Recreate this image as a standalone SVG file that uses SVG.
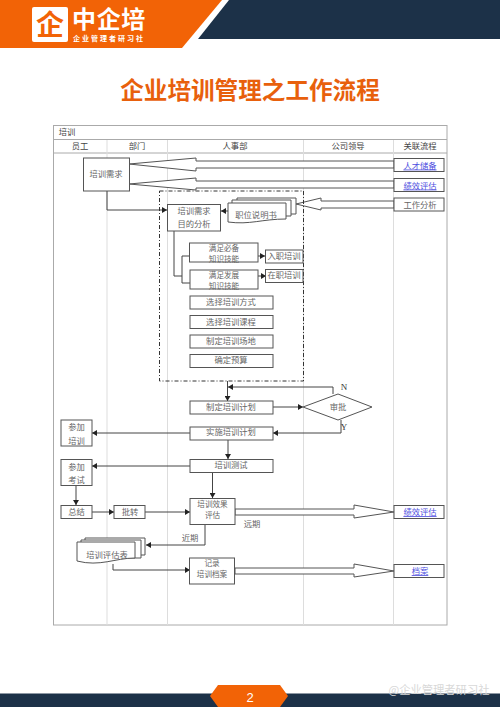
<svg xmlns="http://www.w3.org/2000/svg" width="500" height="707" viewBox="0 0 500 707">
<defs>
<marker id="a" markerUnits="userSpaceOnUse" markerWidth="6" markerHeight="6" refX="5" refY="3" orient="auto"><path d="M0 0L5 3L0 6Z" fill="#222"/></marker>
</defs>
<style>
text{font-family:"Noto Sans CJK SC","Liberation Serif",serif;text-anchor:middle;fill:#666;font-size:8.3px}
.s{font-size:7.6px}
.b{fill:#fff;stroke:#555;stroke-width:1}
.l{fill:none;stroke:#444;stroke-width:1;marker-end:url(#a)}
.p{fill:none;stroke:#444;stroke-width:1}
.h{fill:#fff;stroke:#555;stroke-width:1}
.g{stroke:#ddd;stroke-width:1}
.t{stroke:#aaa;stroke-width:1;fill:none}
.k{fill:#5050e0;text-decoration:underline}
.w{fill:#444}
.e{font-family:"Liberation Serif",serif;fill:#333;font-size:9px}
</style>
<g id="banner">
<polygon points="0,0 222,0 182,48 0,48" fill="#f26306"/>
<polygon points="229,0 198,39 500,39 500,0" fill="#1c3148"/>
<rect x="32" y="7" width="36" height="35" rx="2" fill="#fff"/>
<text x="50" y="35" style="font-size:28px;font-weight:700;fill:#f26306">企</text>
<text x="109" y="28" style="font-size:24px;font-weight:700;fill:#fff;letter-spacing:.6px">中企培</text>
<text x="109" y="41" style="font-size:7px;font-weight:700;fill:#fff;letter-spacing:2px">企业管理者研习社</text>
</g>
<text id="title" x="250" y="99" style="font-size:23.6px;font-weight:700;fill:#e8600c">企业培训管理之工作流程</text>
<g id="table">
<rect x="53.500" y="125.500" width="393.500" height="499.500" class="t"/>
<line x1="53" y1="139.500" x2="447" y2="139.500" class="t"/>
<line x1="53" y1="153" x2="447" y2="153" class="t"/>
<line x1="107" y1="140" x2="107" y2="625" class="g"/>
<line x1="167.500" y1="140" x2="167.500" y2="625" class="g"/>
<line x1="303.500" y1="140" x2="303.500" y2="625" class="g"/>
<line x1="393.500" y1="140" x2="393.500" y2="625" class="g"/>
<text x="67" y="135" class="w">培训</text>
<text x="80" y="149" class="w">员工</text>
<text x="137" y="149" class="w">部门</text>
<text x="235" y="149" class="w">人事部</text>
<text x="348" y="149" class="w">公司领导</text>
<text x="420" y="149" class="w">关联流程</text>
</g>
<g id="connectors">
<polygon class="h" points="129,164 196,158 196,161 394,161 394,168 196,168 196,171"/>
<polygon class="h" points="129,184 196,178 196,181 394,181 394,188 196,188 196,190"/>
<polygon class="h" points="296,204 321,198 321,201 394,201 394,208 321,208 321,210"/>
<path class="l" d="M107 191V210H167"/>
<path class="p" d="M174 231V276H182"/>
<path class="p" d="M190 256H182V283H190"/>
<path class="l" d="M258 256H265"/>
<path class="l" d="M258 276H266"/>
<path class="l" d="M228 211H221"/>
<path class="l" d="M227.500 381V401"/>
<path class="l" d="M333 394V387H228"/>
<path class="l" d="M273 407H303"/>
<path class="l" d="M341 420V433H273"/>
<path class="l" d="M190 433H92"/>
<path class="l" d="M228 440V459"/>
<path class="l" d="M190 466H92"/>
<path class="l" d="M212.500 472V498"/>
<path class="l" d="M76 486V505"/>
<path class="l" d="M92 512H114"/>
<path class="l" d="M145 512H190"/>
<path class="l" d="M205 525V545H146"/>
<path class="l" d="M113 564V570H190"/>
<polygon class="h" points="235,509 354,509 354,505 394,512 354,518 354,515 235,515"/>
<polygon class="h" points="235,568 354,568 354,564 394,571 354,577 354,574 235,574"/>
</g>
<g id="n1"><rect class="b" x="83.500" y="158" width="46" height="33"/><text x="106" y="177">培训需求</text></g>
<g id="lk1"><rect class="b" x="394" y="158.500" width="50" height="13"/><text x="420" y="168.500" class="k">人才储备</text></g>
<g id="lk2"><rect class="b" x="394" y="178.500" width="50" height="13"/><text x="420" y="188.500" class="k">绩效评估</text></g>
<g id="lk3"><rect class="b" x="394" y="198" width="50" height="13"/><text x="420" y="208">工作分析</text></g>
<rect id="dash" x="159.500" y="191" width="144" height="190" fill="none" stroke="#333" stroke-width="1" stroke-dasharray="4 2 1 2"/>
<g id="n2"><rect class="b" x="167.500" y="204.500" width="53" height="26.500"/><text x="194" y="214">培训需求</text><text x="194" y="227">目的分析</text></g>
<g id="doc1"><path class="b" d="M237 198H296V214H237Z"/><path class="b" d="M232 200H291V216H232Z"/><path class="b" d="M228 203H286V219C262 219 250 225 228 222Z"/><text x="256" y="218">职位说明书</text></g>
<g id="n3"><rect class="b" x="189.500" y="243" width="68.500" height="19"/><text class="s" x="224" y="250.500">满足必备</text><text class="s" x="224" y="261.500">知识技能</text></g>
<g id="n4"><rect class="b" x="190" y="270" width="68" height="19"/><text class="s" x="224" y="277.500">满足发展</text><text class="s" x="224" y="288.500">知识技能</text></g>
<g id="n5"><rect class="b" x="265.500" y="250" width="37.500" height="13"/><text x="284" y="259">入职培训</text></g>
<g id="n6"><rect class="b" x="265.500" y="269.500" width="37.500" height="13"/><text x="284" y="278">在职培训</text></g>
<g id="n7"><rect class="b" x="190" y="296" width="83" height="13"/><text x="231" y="305">选择培训方式</text></g>
<g id="n8"><rect class="b" x="190" y="315.500" width="83" height="13"/><text x="231" y="325">选择培训课程</text></g>
<g id="n9"><rect class="b" x="190" y="335" width="83" height="13"/><text x="231" y="344">制定培训场地</text></g>
<g id="n10"><rect class="b" x="190" y="354.500" width="83" height="13"/><text x="231" y="363">确定预算</text></g>
<g id="n11"><rect class="b" x="190" y="401" width="83" height="13"/><text x="231" y="410">制定培训计划</text></g>
<g id="n12"><polygon class="b" points="303,407 338,394 372,407 338,420"/><text x="338" y="410">审批</text></g>
<text class="e" x="344" y="390">N</text>
<text class="e" x="344" y="430">Y</text>
<g id="n13"><rect class="b" x="190" y="427" width="83" height="13"/><text x="231" y="435">实施培训计划</text></g>
<g id="n14"><rect class="b" x="61" y="420" width="31" height="26"/><text x="76.500" y="430">参加</text><text x="76.500" y="444">培训</text></g>
<g id="n15"><rect class="b" x="190" y="459.500" width="83" height="13"/><text x="231" y="468">培训测试</text></g>
<g id="n16"><rect class="b" x="61" y="459.500" width="31" height="26"/><text x="76.500" y="470">参加</text><text x="76.500" y="483">考试</text></g>
<g id="n17"><rect class="b" x="61" y="505.500" width="31" height="13"/><text x="76.500" y="515">总结</text></g>
<g id="n18"><rect class="b" x="114" y="505.500" width="31" height="13"/><text x="130" y="515">批转</text></g>
<g id="n19"><rect class="b" x="190" y="498.500" width="45" height="26"/><text class="s" x="212.500" y="507">培训效果</text><text class="s" x="212.500" y="518">评估</text></g>
<text x="190" y="541">近期</text>
<text x="252" y="527">远期</text>
<g id="doc2"><path class="b" d="M85 538H145V555H85Z"/><path class="b" d="M81 540H141V558H81Z"/><path class="b" d="M77 542H135V558C115 558 100 567 77 561Z"/><text x="107" y="558">培训评估表</text></g>
<g id="n20"><rect class="b" x="189.500" y="558" width="45" height="26"/><text class="s" x="212" y="566">记录</text><text class="s" x="212" y="577">培训档案</text></g>
<g id="lk4"><rect class="b" x="394" y="505.500" width="50" height="13"/><text x="420" y="515" class="k">绩效评估</text></g>
<g id="lk5"><rect class="b" x="394" y="564.500" width="50" height="13"/><text x="420" y="574" class="k">档案</text></g>
<g id="footer"><rect x="0" y="693.500" width="500" height="13.500" fill="#1c3148"/>
<polygon points="218,685 280,685 288,696 280,707 218,707 210,696" fill="#f26306"/>
<text x="250" y="702" style="font-size:13px;fill:#fff;font-family:'Liberation Sans',sans-serif">2</text>
<text x="439" y="694" style="font-size:11.300px;fill:#d8d8d8">@企业管理者研习社</text></g>
</svg>
